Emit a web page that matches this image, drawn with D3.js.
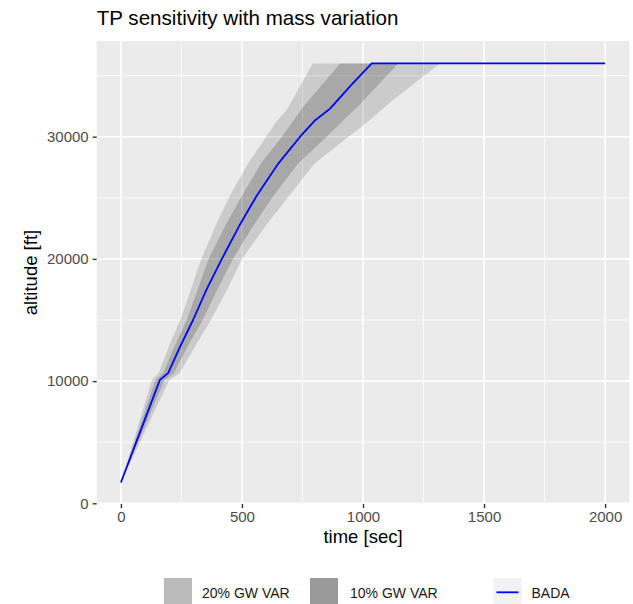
<!DOCTYPE html>
<html>
<head>
<meta charset="utf-8">
<script src="https://cdn.jsdelivr.net/npm/d3@7"></script>
<style>
  body { margin: 0; background: #fff; }
  svg { display: block; font-family: "Liberation Sans", Arial, sans-serif; }
</style>
</head>
<body>
<div id="chart"></div>
<script>
// [time sec, altitude ft]
const bada = [[0,1700],[161,10100],[195,10650],[245,12850],[298,15000],[355,17550],[417,20000],[490,22750],[561,25170],[650,27800],[740,30000],[800,31300],[864,32300],[950,34200],[1036,36000],[2000,36000]];
const fast20 = [[0,1700],[128,10100],[156,10650],[198,12850],[245,15000],[290,17550],[332,20000],[392,22750],[450,25170],[525,27800],[600,30000],[645,31300],[685,32200],[793,36000],[2000,36000]];
const slow20 = [[0,1700],[200,10100],[242,10650],[307,12850],[372,15000],[440,17550],[500,20000],[600,22750],[695,25170],[800,27800],[940,30000],[1025,31300],[1124,33000],[1318,36000],[2000,36000]];
const fast10 = [[0,1700],[143,10100],[174,10650],[222,12850],[272,15000],[318,17550],[362,20000],[432,22750],[500,25170],[578,27800],[665,30000],[712,31300],[752,32400],[905,36000],[2000,36000]];
const slow10 = [[0,1700],[180,10100],[218,10650],[276,12850],[338,15000],[400,17550],[463,20000],[548,22750],[630,25170],[732,27800],[850,30000],[917,31300],[985,32600],[1145,36000],[2000,36000]];

const xTicks = [0, 500, 1000, 1500, 2000];
const xMinor = [250, 750, 1250, 1750];
const yTicks = [0, 10000, 20000, 30000];
const yMinor = [5000, 15000, 25000, 35000];
const legendLabels = ['20% GW VAR', '10% GW VAR', 'BADA'];

const width = 633, height = 604;
const panel = {left: 96.7, right: 629.3, top: 41, bottom: 504};

const svg = d3.select('#chart').append('svg')
  .attr('width', width).attr('height', height);

const x = d3.scaleLinear().domain([-100, 2100]).range([panel.left, panel.right]);
const y = d3.scaleLinear().domain([0, 30000]).range([503.3, 136.7]);

svg.append('rect')
  .attr('x', panel.left).attr('y', panel.top)
  .attr('width', panel.right - panel.left).attr('height', panel.bottom - panel.top)
  .attr('fill', '#ebebeb');

const grid = svg.append('g').attr('stroke', '#fff');
grid.selectAll('.vmin').data(xMinor).join('line')
  .attr('x1', x).attr('x2', x).attr('y1', panel.top).attr('y2', panel.bottom)
  .attr('stroke-width', 0.8);
grid.selectAll('.hmin').data(yMinor).join('line')
  .attr('y1', y).attr('y2', y).attr('x1', panel.left).attr('x2', panel.right)
  .attr('stroke-width', 0.8);
grid.selectAll('.vmaj').data(xTicks).join('line')
  .attr('x1', x).attr('x2', x).attr('y1', panel.top).attr('y2', panel.bottom)
  .attr('stroke-width', 1.6);
grid.selectAll('.hmaj').data(yTicks).join('line')
  .attr('y1', y).attr('y2', y).attr('x1', panel.left).attr('x2', panel.right)
  .attr('stroke-width', 1.6);

svg.append('clipPath').attr('id', 'clip').append('rect')
  .attr('x', panel.left).attr('y', panel.top)
  .attr('width', panel.right - panel.left).attr('height', panel.bottom - panel.top);

const line = d3.line().x(d => x(d[0])).y(d => y(d[1]));

// ribbons: fast trajectory forward, slow one back
const bands = [
  {pts: fast20.concat(slow20.slice().reverse()), opacity: 0.135},
  {pts: fast10.concat(slow10.slice().reverse()), opacity: 0.17}
];
const plot = svg.append('g').attr('clip-path', 'url(#clip)');
plot.selectAll('path.band').data(bands).join('path')
  .attr('class', 'band')
  .attr('fill', '#000')
  .attr('fill-opacity', d => d.opacity)
  .attr('d', d => line(d.pts) + 'Z');

plot.append('path')
  .attr('fill', 'none')
  .attr('stroke', '#0000ff')
  .attr('stroke-width', 1.8)
  .attr('stroke-linejoin', 'round')
  .attr('d', line(bada));

// axes
const styleAxis = g => g
  .call(g => g.select('.domain').remove())
  .call(g => g.selectAll('.tick line').attr('stroke', '#333').attr('stroke-width', 1.4))
  .call(g => g.selectAll('.tick text').attr('fill', '#4d4d4d').attr('font-size', 15)
    .attr('font-family', '"Liberation Sans", Arial, sans-serif'));

svg.append('g')
  .attr('transform', `translate(0,${panel.bottom})`)
  .call(d3.axisBottom(x).tickValues(xTicks).tickSize(4).tickPadding(3).tickFormat(d => d))
  .call(styleAxis);

svg.append('g')
  .attr('transform', `translate(${panel.left},0)`)
  .call(d3.axisLeft(y).tickValues(yTicks).tickSize(4).tickPadding(4).tickFormat(d => d))
  .call(styleAxis);

svg.append('text')
  .attr('x', (panel.left + panel.right) / 2).attr('y', 543)
  .attr('text-anchor', 'middle').attr('font-size', 18.5).attr('fill', '#000')
  .text('time [sec]');

svg.append('text')
  .attr('transform', `translate(37,${(panel.top + panel.bottom) / 2}) rotate(-90)`)
  .attr('text-anchor', 'middle').attr('font-size', 18.5).attr('fill', '#000')
  .text('altitude [ft]');

svg.append('text')
  .attr('x', panel.left).attr('y', 25)
  .attr('font-size', 20.6).attr('fill', '#000')
  .text('TP sensitivity with mass variation');

// legend
const legendKeys = [
  {x: 164, fill: '#bababa', text: 202},
  {x: 310, fill: '#9a9a9a', text: 350},
  {x: 493.5, fill: '#f2f2f2', text: 531.5}
];
const lg = svg.append('g').selectAll('g').data(legendLabels).join('g');
lg.append('rect')
  .attr('x', (d, i) => legendKeys[i].x).attr('y', 578)
  .attr('width', 28).attr('height', 28)
  .attr('fill', (d, i) => legendKeys[i].fill);
lg.filter((d, i) => i === 2).append('line')
  .attr('x1', legendKeys[2].x + 3).attr('x2', legendKeys[2].x + 25)
  .attr('y1', 592.3).attr('y2', 592.3)
  .attr('stroke', '#0000ff').attr('stroke-width', 1.8);
lg.append('text')
  .attr('x', (d, i) => legendKeys[i].text).attr('y', 598)
  .attr('font-size', 14).attr('fill', '#1a1a1a')
  .text(d => d);
</script>
</body>
</html>
